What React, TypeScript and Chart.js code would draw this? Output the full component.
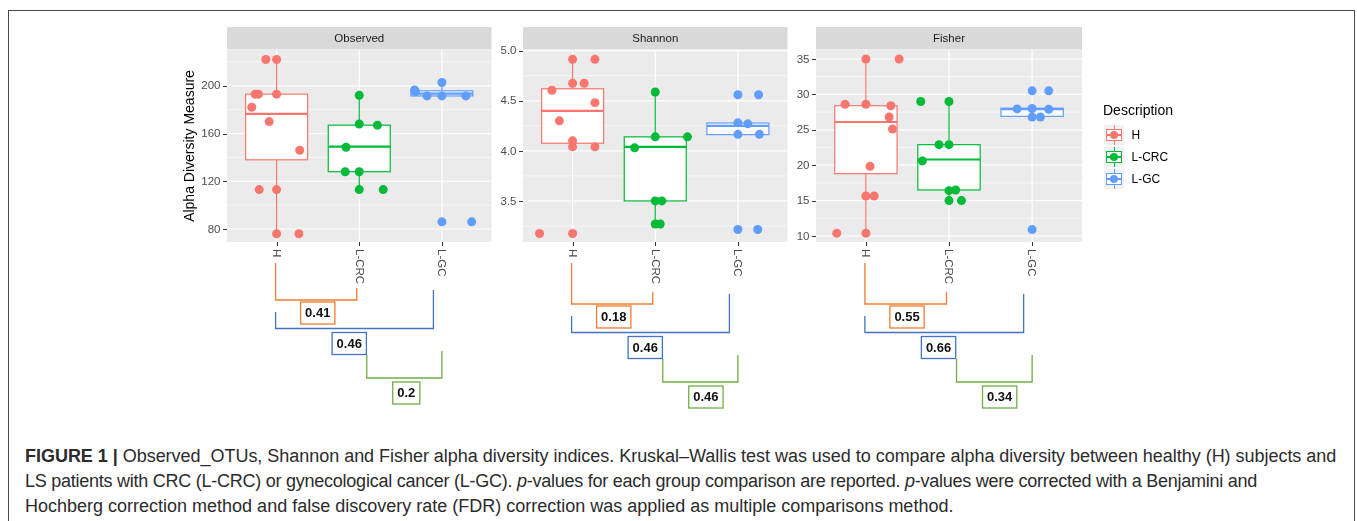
import React, { useEffect, useRef } from "react";
import { Chart, registerables } from "chart.js";

Chart.register(...registerables);

// ---------------- DATA ----------------
const groups = ["H", "L-CRC", "L-GC"];
const panelTitles = ["Observed", "Shannon", "Fisher"];

// Observed
const obsH = [222, 222, 193, 193, 193, 182, 170, 146, 113, 113, 76, 76];
const obsHJitter = [-0.13, 0, -0.26, -0.22, 0, -0.3, -0.09, 0.28, -0.21, 0, 0, 0.27];
const obsCRC = [192, 168, 167, 148.5, 128, 128, 113, 113];
const obsCRCJitter = [0, 0, 0.22, -0.16, -0.17, 0, 0, 0.29];
const obsGC = [196.5, 195, 191.5, 202.8, 191.5, 191.5, 86, 86];
const obsGCJitter = [-0.33, -0.32, -0.18, 0, 0, 0.29, 0, 0.36];
const obsLower = [76, 113, 191.5];
const obsQ1 = [138, 128, 191.5];
const obsMedian = [176.5, 149, 193.5];
const obsQ3 = [193, 167, 195.8];
const obsUpper = [222, 192, 202.8];
const obsTicks = [80, 120, 160, 200];
const obsTickLabels = ["80", "120", "160", "200"];
const obsMinor = [100, 140, 180, 220];
const obsRange = [69.1, 230];
const obsP = ["0.41", "0.46", "0.2"];

// Shannon
const shH = [4.914, 4.914, 4.675, 4.675, 4.605, 4.481, 4.3, 4.1, 4.04, 4.04, 3.175, 3.175];
const shHJitter = [0, 0.27, 0, 0.14, -0.25, 0.27, -0.16, 0, 0, 0.27, -0.4, 0];
const shCRC = [4.588, 4.14, 4.14, 4.03, 3.5, 3.5, 3.27, 3.27];
const shCRCJitter = [0, 0, 0.39, -0.25, 0, 0.08, 0, 0.06];
const shGC = [4.56, 4.56, 4.28, 4.27, 4.165, 4.165, 3.215, 3.215];
const shGCJitter = [0, 0.25, 0, 0.12, 0, 0.26, 0, 0.24];
const shLower = [4.04, 3.27, 4.165];
const shQ1 = [4.076, 3.5, 4.162];
const shMedian = [4.4, 4.04, 4.25];
const shQ3 = [4.62, 4.14, 4.278];
const shUpper = [4.914, 4.588, 4.278];
const shTicks = [3.5, 4.0, 4.5, 5.0];
const shTickLabels = ["3.5", "4.0", "4.5", "5.0"];
const shMinor = [3.25, 3.75, 4.25, 4.75];
const shRange = [3.09, 5.007];
const shP = ["0.18", "0.46", "0.46"];

// Fisher
const fiH = [35, 35, 28.6, 28.6, 28.4, 26.8, 25.1, 19.85, 15.65, 15.65, 10.4, 10.4];
const fiHJitter = [0, 0.4, -0.25, 0, 0.3, 0.28, 0.32, 0.05, 0, 0.1, -0.35, 0];
const fiCRC = [29, 29, 22.9, 22.9, 20.6, 16.4, 16.5, 15, 15];
const fiCRCJitter = [-0.34, 0, -0.12, 0, -0.32, 0, 0.08, 0, 0.15];
const fiGC = [30.5, 30.5, 27.95, 28, 27.9, 26.8, 26.8, 10.9];
const fiGCJitter = [0, 0.2, -0.18, 0, 0.2, 0, 0.1, 0];
const fiLower = [10.4, 15, 26.8];
const fiQ1 = [18.8, 16.5, 26.9];
const fiMedian = [26.1, 20.8, 27.9];
const fiQ3 = [28.4, 22.9, 28.05];
const fiUpper = [35, 29, 28.05];
const fiTicks = [10, 15, 20, 25, 30, 35];
const fiTickLabels = ["10", "15", "20", "25", "30", "35"];
const fiMinor = [12.5, 17.5, 22.5, 27.5, 32.5];
const fiRange = [9.15, 36.27];
const fiP = ["0.55", "0.66", "0.34"];

const legendTitle = "Description";
const yAxisTitle = "Alpha Diversity Measure";

// ---------------- STYLE / LAYOUT ----------------
const groupColors = ["#F8766D", "#00BA38", "#619CFF"];
const bracketColors = ["#ED7D31", "#4472C4", "#70AD47"];
const FONT = '"Liberation Sans", Arial, Helvetica, sans-serif';

type Layout = { left: number; top: number; width: number; height: number; padL: number; padR: number; shift: number; extra: string };
const layouts: Layout[] = [
  { left: 150, top: 20, width: 346, height: 400, padL: 77, padR: 3, shift: -4, extra: "ytitle" },
  { left: 490, top: 20, width: 302, height: 400, padL: 33, padR: 4, shift: 0, extra: "" },
  { left: 790, top: 20, width: 420, height: 400, padL: 26, padR: 128, shift: 0, extra: "legend" },
];

type Panel = {
  title: string; values: number[][]; jitter: number[][];
  lower: number[]; q1: number[]; median: number[]; q3: number[]; upper: number[];
  range: number[]; ticks: number[]; tickLabels: string[]; minor: number[]; pValues: string[];
};

const panels: Panel[] = [
  { title: panelTitles[0], values: [obsH, obsCRC, obsGC], jitter: [obsHJitter, obsCRCJitter, obsGCJitter],
    lower: obsLower, q1: obsQ1, median: obsMedian, q3: obsQ3, upper: obsUpper,
    range: obsRange, ticks: obsTicks, tickLabels: obsTickLabels, minor: obsMinor, pValues: obsP },
  { title: panelTitles[1], values: [shH, shCRC, shGC], jitter: [shHJitter, shCRCJitter, shGCJitter],
    lower: shLower, q1: shQ1, median: shMedian, q3: shQ3, upper: shUpper,
    range: shRange, ticks: shTicks, tickLabels: shTickLabels, minor: shMinor, pValues: shP },
  { title: panelTitles[2], values: [fiH, fiCRC, fiGC], jitter: [fiHJitter, fiCRCJitter, fiGCJitter],
    lower: fiLower, q1: fiQ1, median: fiMedian, q3: fiQ3, upper: fiUpper,
    range: fiRange, ticks: fiTicks, tickLabels: fiTickLabels, minor: fiMinor, pValues: fiP },
];

function line(ctx: CanvasRenderingContext2D, x1: number, y1: number, x2: number, y2: number) {
  ctx.beginPath();
  ctx.moveTo(x1, y1);
  ctx.lineTo(x2, y2);
  ctx.stroke();
}
const crisp = (v: number) => Math.round(v) + 0.5;

function drawBoxGlyph(ctx: CanvasRenderingContext2D, color: string, x: number, y: number, w: number, h: number) {
  ctx.fillStyle = "#F2F2F2";
  ctx.fillRect(x, y, w, h);
  const cx = x + w / 2, cy = y + h / 2;
  ctx.strokeStyle = color;
  ctx.lineWidth = 1;
  line(ctx, crisp(cx), y, crisp(cx), y + h);
  ctx.fillStyle = "#FFFFFF";
  ctx.fillRect(x + 2, y + 4, w - 4, h - 8);
  ctx.strokeRect(x + 2.5, y + 4.5, w - 5, h - 9);
  ctx.lineWidth = 2;
  line(ctx, x + 2, cy, x + w - 2, cy);
  ctx.fillStyle = color;
  ctx.beginPath();
  ctx.arc(cx, cy, 4, 0, Math.PI * 2);
  ctx.fill();
}

function makePlugin(p: Panel, lay: Layout) {
  return {
    id: "ggdecor",
    beforeDatasetsDraw(chart: any) {
      const { ctx, chartArea: a } = chart;
      const xs = chart.scales.x, ys = chart.scales.y;
      ctx.save();
      ctx.fillStyle = "#EBEBEB";
      ctx.fillRect(a.left, a.top, a.right - a.left, a.bottom - a.top);
      ctx.strokeStyle = "#FFFFFF";
      ctx.lineWidth = 0.6;
      p.minor.forEach((v) => { const py = ys.getPixelForValue(v); line(ctx, a.left, py, a.right, py); });
      ctx.lineWidth = 1.2;
      p.ticks.forEach((v) => { const py = ys.getPixelForValue(v); line(ctx, a.left, py, a.right, py); });
      groups.forEach((_, i) => { const px = xs.getPixelForValue(i + 1); line(ctx, px, a.top, px, a.bottom); });
      // boxes
      groups.forEach((_, i) => {
        const c = groupColors[i];
        const cx = xs.getPixelForValue(i + 1);
        const hw = xs.getPixelForValue(i + 1 + 0.375) - cx;
        const yUp = ys.getPixelForValue(p.upper[i]);
        const yQ3 = ys.getPixelForValue(p.q3[i]);
        const yMed = ys.getPixelForValue(p.median[i]);
        const yQ1 = ys.getPixelForValue(p.q1[i]);
        const yLo = ys.getPixelForValue(p.lower[i]);
        ctx.strokeStyle = c;
        ctx.lineWidth = 1.2;
        line(ctx, cx, yUp, cx, yQ3);
        line(ctx, cx, yQ1, cx, yLo);
        ctx.fillStyle = "#FFFFFF";
        ctx.fillRect(cx - hw, yQ3, hw * 2, yQ1 - yQ3);
        ctx.strokeRect(cx - hw, yQ3, hw * 2, yQ1 - yQ3);
        ctx.lineWidth = 2.2;
        line(ctx, cx - hw, yMed, cx + hw, yMed);
      });
      ctx.restore();
    },
    afterDraw(chart: any) {
      const { ctx, chartArea: a } = chart;
      const xs = chart.scales.x, ys = chart.scales.y;
      ctx.save();
      // strip
      ctx.fillStyle = "#D9D9D9";
      ctx.fillRect(a.left, a.top - 23, a.right - a.left, 22.5);
      ctx.fillStyle = "#1A1A1A";
      ctx.font = `11.5px ${FONT}`;
      ctx.textAlign = "center";
      ctx.textBaseline = "middle";
      ctx.fillText(p.title, (a.left + a.right) / 2, a.top - 11.5);
      // y ticks
      ctx.strokeStyle = "#333333";
      ctx.lineWidth = 1;
      ctx.fillStyle = "#4D4D4D";
      ctx.textAlign = "right";
      p.ticks.forEach((v, i) => {
        const py = ys.getPixelForValue(v);
        line(ctx, a.left - 4, crisp(py), a.left, crisp(py));
        ctx.fillText(p.tickLabels[i], a.left - 6.5, py + 0.5);
      });
      // x ticks
      groups.forEach((g, i) => {
        const px = xs.getPixelForValue(i + 1);
        line(ctx, crisp(px), a.bottom, crisp(px), a.bottom + 4);
        ctx.save();
        ctx.translate(px, a.bottom + 7);
        ctx.rotate(Math.PI / 2);
        ctx.textAlign = "left";
        ctx.textBaseline = "middle";
        ctx.fillText(g, 0, 0.5);
        ctx.restore();
      });
      // brackets with p-values
      const b = a.bottom + lay.shift;
      const xH = xs.getPixelForValue(1), xC = xs.getPixelForValue(2), xG = xs.getPixelForValue(3);
      const bracket = (col: string, x1: number, t1: number, x2: number, t2: number, yh: number) => {
        ctx.strokeStyle = col;
        ctx.lineWidth = 1.3;
        ctx.beginPath();
        ctx.moveTo(x1, t1);
        ctx.lineTo(x1, yh);
        ctx.lineTo(x2, yh);
        ctx.lineTo(x2, t2);
        ctx.stroke();
      };
      const label = (col: string, txt: string, x: number, y: number) => {
        ctx.font = `bold 13px ${FONT}`;
        const w = ctx.measureText(txt).width + 9;
        ctx.fillStyle = "#FFFFFF";
        ctx.fillRect(x, y, w, 22);
        ctx.strokeStyle = col;
        ctx.lineWidth = 1.3;
        ctx.strokeRect(x, y, w, 22);
        ctx.fillStyle = "#111111";
        ctx.textAlign = "center";
        ctx.textBaseline = "middle";
        ctx.fillText(txt, x + w / 2, y + 11.5);
      };
      bracket(bracketColors[0], xH - 1, a.bottom + 21, xC - 2.5, b + 50, b + 62);
      bracket(bracketColors[1], xH - 1, b + 74, xG - 8.5, b + 52, b + 90.5);
      bracket(bracketColors[2], xC + 7.5, b + 117, xG, b + 113, b + 140);
      label(bracketColors[0], p.pValues[0], xH + 24, b + 64);
      label(bracketColors[1], p.pValues[1], xH + 55.5, b + 94.5);
      label(bracketColors[2], p.pValues[2], xC + 33.5, b + 144);

      if (lay.extra === "ytitle") {
        ctx.save();
        ctx.translate(40, (a.top + a.bottom) / 2);
        ctx.rotate(-Math.PI / 2);
        ctx.fillStyle = "#000000";
        ctx.font = `14px ${FONT}`;
        ctx.textAlign = "center";
        ctx.textBaseline = "middle";
        ctx.fillText(yAxisTitle, 0, 0);
        ctx.restore();
      }
      if (lay.extra === "legend") {
        const lx = a.right + 21;
        ctx.fillStyle = "#000000";
        ctx.font = `14px ${FONT}`;
        ctx.textAlign = "left";
        ctx.textBaseline = "middle";
        ctx.fillText(legendTitle, lx, a.top + 61);
        groups.forEach((g, i) => {
          const ky = a.top + 75 + i * 22;
          drawBoxGlyph(ctx, groupColors[i], lx + 1, ky, 20, 20);
          ctx.fillStyle = "#000000";
          ctx.font = `12px ${FONT}`;
          ctx.textAlign = "left";
          ctx.textBaseline = "middle";
          ctx.fillText(g, lx + 28.5, ky + 10.5);
        });
      }
      ctx.restore();
    },
  };
}

function PanelChart({ panel, lay }: { panel: Panel; lay: Layout }) {
  const ref = useRef<HTMLCanvasElement | null>(null);
  useEffect(() => {
    if (!ref.current) return;
    const chart = new Chart(ref.current, {
      type: "scatter",
      data: {
        datasets: groups.map((g, gi) => ({
          label: g,
          data: panel.values[gi].map((v, k) => ({ x: gi + 1 + panel.jitter[gi][k], y: v })),
          backgroundColor: groupColors[gi],
          borderWidth: 0,
          pointRadius: 4.5,
          pointHoverRadius: 4.5,
        })),
      },
      options: {
        responsive: false,
        maintainAspectRatio: false,
        animation: false,
        events: [],
        devicePixelRatio: 1,
        layout: { padding: { left: lay.padL, right: lay.padR, top: 30, bottom: 178 } },
        scales: {
          x: { type: "linear", min: 0.4, max: 3.6, display: false },
          y: { type: "linear", min: panel.range[0], max: panel.range[1], display: false },
        },
        plugins: { legend: { display: false }, tooltip: { enabled: false } },
      },
      plugins: [makePlugin(panel, lay)],
    } as any);
    return () => chart.destroy();
  }, []);
  return (
    <canvas
      ref={ref}
      width={lay.width}
      height={lay.height}
      style={{ position: "absolute", left: lay.left, top: lay.top, width: lay.width, height: lay.height }}
    />
  );
}

export default function App() {
  useEffect(() => {
    document.body.style.margin = "0";
    document.body.style.overflow = "hidden";
  }, []);
  const capStyle: React.CSSProperties = { whiteSpace: "nowrap", height: 25.3 };
  return (
    <div style={{ position: "relative", width: 1357, height: 521, overflow: "hidden", background: "#FFFFFF" }}>
      <div style={{ position: "absolute", left: 8, top: 10, width: 1347, height: 700, boxSizing: "border-box", border: "1px solid #4A4A4A" }} />
      {panels.map((p, i) => (
        <PanelChart key={i} panel={p} lay={layouts[i]} />
      ))}
      <div
        style={{
          position: "absolute",
          left: 25,
          top: 443.5,
          fontFamily: FONT,
          fontSize: 18,
          lineHeight: "25.3px",
          color: "#2B2B2B",
        }}
      >
        <div style={{ ...capStyle, letterSpacing: "-0.03px" }}>
          <b>FIGURE 1 |</b> Observed_OTUs, Shannon and Fisher alpha diversity indices. Kruskal–Wallis test was used to compare alpha diversity between healthy (H) subjects and
        </div>
        <div style={{ ...capStyle, letterSpacing: "-0.25px" }}>
          LS patients with CRC (L-CRC) or gynecological cancer (L-GC). <i>p</i>-values for each group comparison are reported. <i>p</i>-values were corrected with a Benjamini and
        </div>
        <div style={capStyle}>
          Hochberg correction method and false discovery rate (FDR) correction was applied as multiple comparisons method.
        </div>
      </div>
    </div>
  );
}
